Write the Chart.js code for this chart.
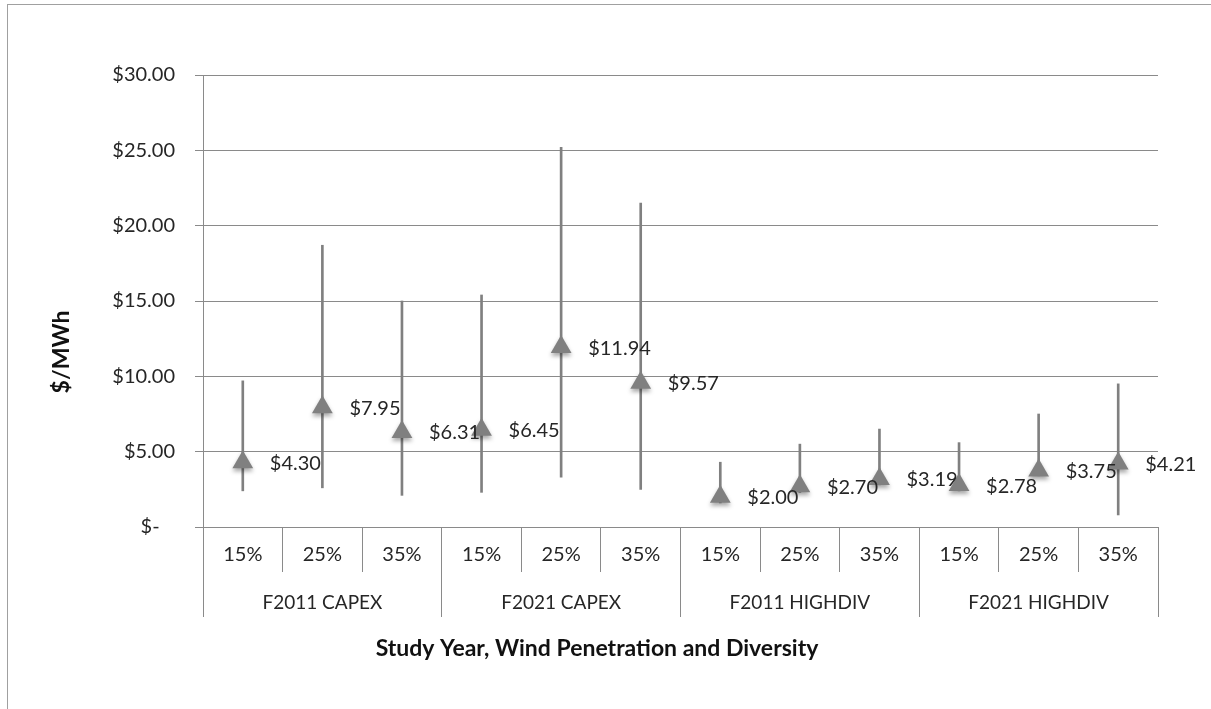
<!DOCTYPE html>
<html>
<head>
<meta charset="utf-8">
<script src="https://cdn.jsdelivr.net/npm/chart.js@4/dist/chart.umd.min.js"></script>
<style>
  html, body { margin: 0; padding: 0; background: #fff; overflow: hidden; }
  #wrap { position: relative; width: 1211px; height: 709px; }
  #frame { position: absolute; left: 7px; top: 4px; width: 1300px; height: 800px;
           border-left: 1px solid #a0a0a0; border-top: 1px solid #a0a0a0; pointer-events: none; }
  canvas { position: absolute; left: 0; top: 0; }
</style>
</head>
<body>
<div id="wrap">
  <canvas id="c" width="1211" height="709"></canvas>
  <div id="frame"></div>
</div>
<script>
// ---- data ----
const categories = ['15%', '25%', '35%', '15%', '25%', '35%', '15%', '25%', '35%', '15%', '25%', '35%'];
const groups = ['F2011 CAPEX', 'F2021 CAPEX', 'F2011 HIGHDIV', 'F2021 HIGHDIV'];
const meanValues = [4.30, 7.95, 6.31, 6.45, 11.94, 9.57, 2.00, 2.70, 3.19, 2.78, 3.75, 4.21];
const highValues = [9.7, 18.7, 15.0, 15.4, 25.2, 21.5, 4.3, 5.5, 6.5, 5.6, 7.5, 9.5];
const lowValues  = [2.4, 2.6, 2.1, 2.3, 3.3, 2.5, 1.6, 2.3, 2.8, 2.4, 3.4, 0.8];
const yTicks = [0, 5, 10, 15, 20, 25, 30];
const yTitle = '$/MWh';
const xTitle = 'Study Year, Wind Penetration and Diversity';

const FONT = 'Lato, "Open Sans", sans-serif';
const GRID = '#8a8a8a';
const MARK = '#808080';
const TEXT = '#262626';

const ranges = highValues.map((h, i) => [lowValues[i], h]);

const labelPlugin = {
  id: 'pointLabels',
  afterDatasetsDraw(chart) {
    const ctx = chart.ctx;
    const meta = chart.getDatasetMeta(1);
    ctx.save();
    ctx.font = '20px ' + FONT;
    ctx.fillStyle = TEXT;
    ctx.textAlign = 'left';
    ctx.textBaseline = 'middle';
    meta.data.forEach((pt, i) => {
      ctx.fillText('$' + meanValues[i].toFixed(2), pt.x + 27, pt.y + 1);
    });
    ctx.restore();
  }
};

const shadowPlugin = {
  id: 'markerShadow',
  beforeDatasetDraw(chart, args) {
    if (args.index !== 1) return;
    const ctx = chart.ctx;
    ctx.save();
    ctx.shadowColor = 'rgba(0,0,0,0.35)';
    ctx.shadowBlur = 4;
    ctx.shadowOffsetY = 3;
  },
  afterDatasetDraw(chart, args) {
    if (args.index !== 1) return;
    chart.ctx.restore();
  }
};

const titlesPlugin = {
  id: 'axisTitles',
  afterDraw(chart) {
    const ctx = chart.ctx;
    ctx.save();
    ctx.fillStyle = '#111';
    ctx.font = 'bold 23px ' + FONT;
    ctx.textAlign = 'center';
    ctx.textBaseline = 'middle';
    ctx.fillText(xTitle, 597, 649);
    ctx.translate(62, 352);
    ctx.rotate(-Math.PI / 2);
    ctx.fillText(yTitle, 0, 0);
    ctx.restore();
  }
};

new Chart(document.getElementById('c'), {
  type: 'line',
  data: {
    labels: categories,
    datasets: [
      {
        type: 'bar',
        data: ranges,
        backgroundColor: MARK,
        borderWidth: 0,
        barThickness: 2,
        grouped: false,
        order: 2
      },
      {
        type: 'line',
        data: meanValues,
        showLine: false,
        pointStyle: 'triangle',
        pointRadius: 12,
        pointHoverRadius: 12,
        pointBackgroundColor: MARK,
        pointBorderColor: MARK,
        pointBorderWidth: 0,
        order: 1
      }
    ]
  },
  options: {
    responsive: false,
    animation: false,
    events: [],
    layout: { padding: { left: 0, right: 53, top: 75, bottom: 92 } },
    plugins: {
      legend: { display: false },
      tooltip: { enabled: false },
      title: { display: false }
    },
    scales: {
      x: {
        type: 'category',
        position: 'bottom',
        offset: true,
        grid: { offset: true, drawOnChartArea: false, drawTicks: true, tickLength: 45, color: GRID, lineWidth: 1 },
        border: { display: true, color: GRID, width: 1 },
        ticks: { color: TEXT, font: { family: FONT, size: 20 }, padding: -29, maxRotation: 0, autoSkip: false },
        afterFit(s) { s.height = 45; }
      },
      x2: {
        type: 'category',
        position: 'bottom',
        labels: groups,
        offset: true,
        grid: { offset: true, drawOnChartArea: false, drawTicks: true, tickLength: 45, color: GRID, lineWidth: 1 },
        border: { display: false },
        ticks: { color: TEXT, font: { family: FONT, size: 19 }, padding: -26, maxRotation: 0, autoSkip: false },
        afterFit(s) { s.height = 45; }
      },
      y: {
        min: 0,
        max: 30,
        afterBuildTicks(s) { s.ticks = yTicks.map(v => ({ value: v })); },
        grid: { color: GRID, lineWidth: 1, drawTicks: true, tickLength: 8 },
        border: { display: true, color: GRID, width: 1 },
        ticks: {
          color: TEXT,
          font: { family: FONT, size: 20 },
          padding: 20,
          callback: v => v === 0 ? '$-   ' : '$' + Number(v).toFixed(2)
        },
        afterFit(s) { s.width = 203; }
      }
    }
  },
  plugins: [labelPlugin, shadowPlugin, titlesPlugin]
});
</script>
</body>
</html>
